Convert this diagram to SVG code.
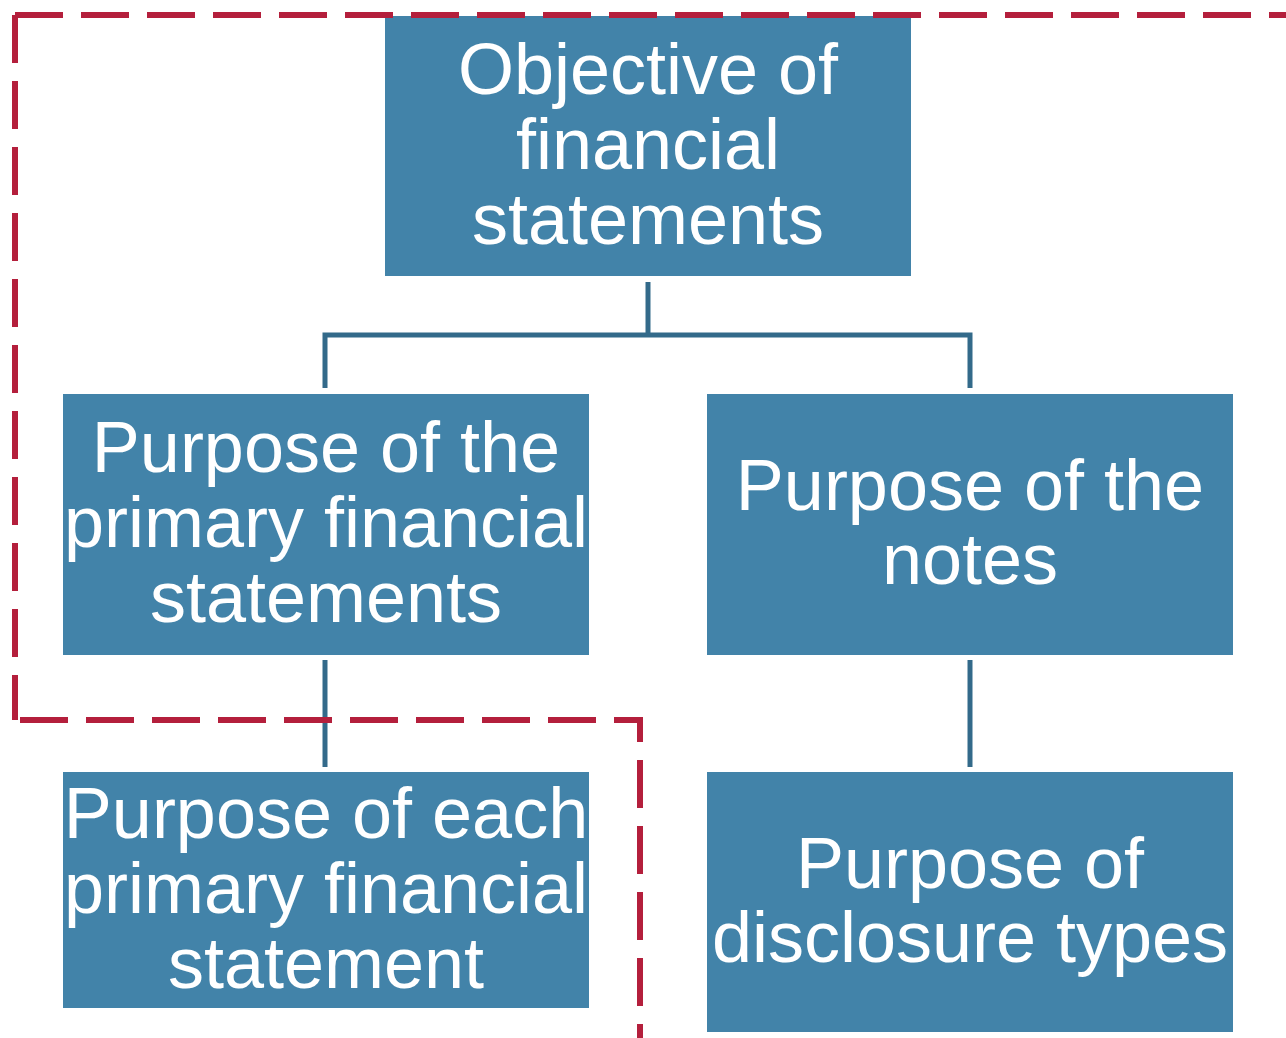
<svg xmlns="http://www.w3.org/2000/svg" width="1286" height="1038" viewBox="0 0 1286 1038">
<style>
.box{fill:#4283A9;}
.lbl{font-family:"Liberation Sans",Arial,sans-serif;font-size:72px;fill:#ffffff;text-anchor:middle;}
.conn{fill:none;stroke:#336A8A;stroke-width:5;}
.dash{fill:none;stroke:#B41F3C;stroke-width:6;stroke-dasharray:48 18;}
</style>
<rect width="1286" height="1038" fill="#ffffff"/>
<g id="connectors">
<path class="conn" d="M648,282 V335"/>
<path class="conn" d="M325,388 V335 H970 V388"/>
<path class="conn" d="M325,660 V767"/>
<path class="conn" d="M970,660 V767"/>
</g>
<g id="node-objective">
<rect class="box" x="385" y="16" width="526" height="260"/>
<text class="lbl" x="648" y="94">Objective of</text>
<text class="lbl" x="648" y="169">financial</text>
<text class="lbl" x="648" y="244">statements</text>
</g>
<g id="node-primary">
<rect class="box" x="63" y="394" width="526" height="261"/>
<text class="lbl" x="326" y="472">Purpose of the</text>
<text class="lbl" x="326" y="547">primary financial</text>
<text class="lbl" x="326" y="622">statements</text>
</g>
<g id="node-notes">
<rect class="box" x="707" y="394" width="526" height="261"/>
<text class="lbl" x="970" y="510">Purpose of the</text>
<text class="lbl" x="970" y="584">notes</text>
</g>
<g id="node-each">
<rect class="box" x="63" y="772" width="526" height="236"/>
<text class="lbl" x="326" y="838">Purpose of each</text>
<text class="lbl" x="326" y="913">primary financial</text>
<text class="lbl" x="326" y="988">statement</text>
</g>
<g id="node-disclosure">
<rect class="box" x="707" y="772" width="526" height="260"/>
<text class="lbl" x="970" y="888">Purpose of</text>
<text class="lbl" x="970" y="962">disclosure types</text>
</g>
<g id="boundary">
<path class="dash" d="M15,15 H1290"/>
<path class="dash" d="M15,15 V720"/>
<path class="dash" d="M20,720 H640 V1040"/>
</g>
</svg>
